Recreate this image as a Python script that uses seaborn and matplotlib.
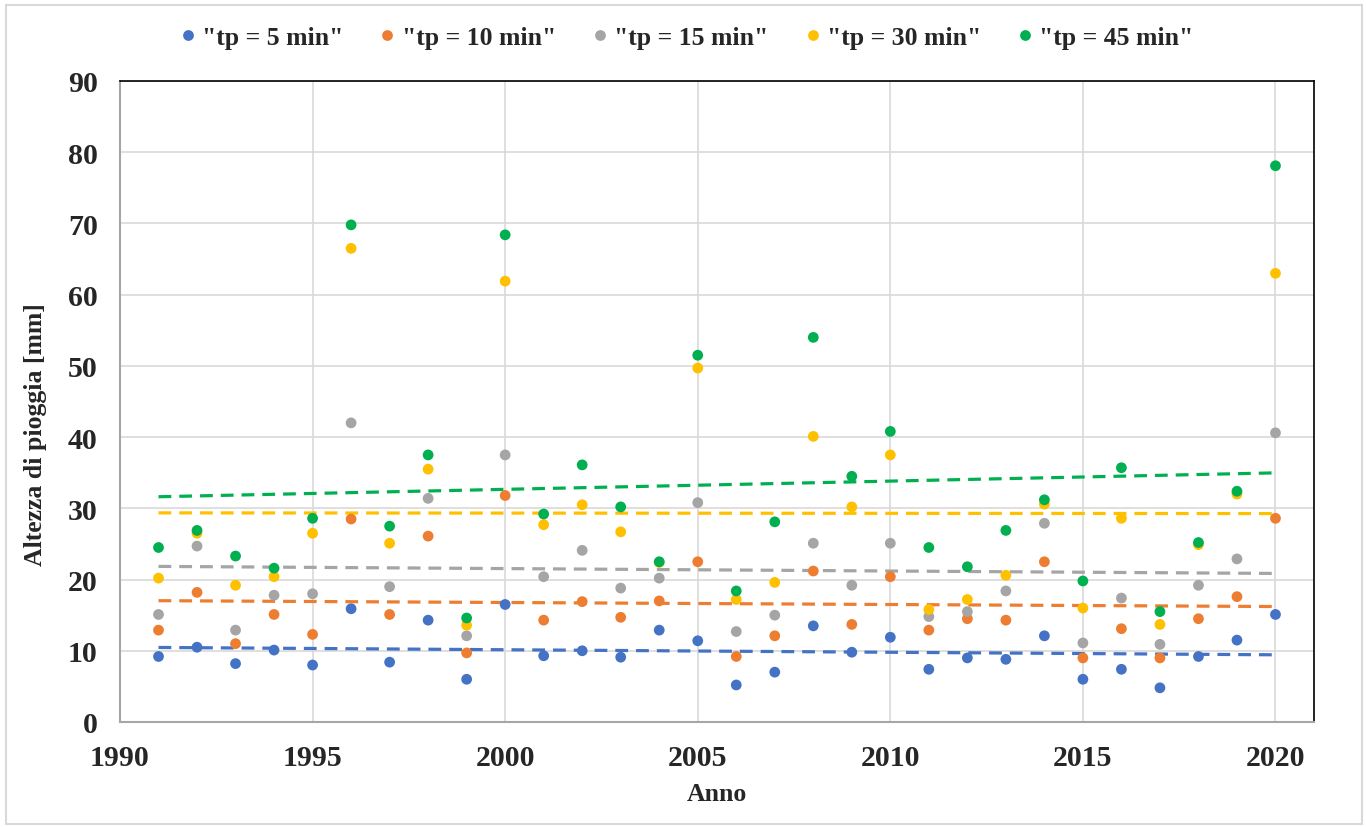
import pandas as pd
import seaborn as sns
import matplotlib.pyplot as plt
from matplotlib.patches import Rectangle

years = list(range(1991, 2021))

tp5 = [9.2, 10.5, 8.2, 10.1, 8.0, 15.9, 8.4, 14.3, 6.0, 16.5,
       9.3, 10.0, 9.1, 12.9, 11.4, 5.2, 7.0, 13.5, 9.8, 11.9,
       7.4, 9.0, 8.8, 12.1, 6.0, 7.4, 4.8, 9.2, 11.5, 15.1]
tp10 = [12.9, 18.2, 11.0, 15.1, 12.3, 28.5, 15.1, 26.1, 9.7, 31.8,
        14.3, 16.9, 14.7, 17.0, 22.5, 9.2, 12.1, 21.2, 13.7, 20.4,
        12.9, 14.5, 14.3, 22.5, 9.0, 13.1, 9.0, 14.5, 17.6, 28.6]
tp15 = [15.1, 24.7, 12.9, 17.8, 18.0, 42.0, 19.0, 31.4, 12.1, 37.5,
        20.4, 24.1, 18.8, 20.2, 30.8, 12.7, 15.0, 25.1, 19.2, 25.1,
        14.8, 15.5, 18.4, 27.9, 11.1, 17.4, 10.9, 19.2, 22.9, 40.6]
tp30 = [20.2, 26.5, 19.2, 20.4, 26.5, 66.5, 25.1, 35.5, 13.6, 61.9,
        27.7, 30.5, 26.7, 22.4, 49.7, 17.2, 19.6, 40.1, 30.2, 37.5,
        15.8, 17.2, 20.6, 30.6, 16.0, 28.6, 13.7, 24.9, 32.0, 63.0]
tp45 = [24.5, 26.9, 23.3, 21.6, 28.6, 69.8, 27.5, 37.5, 14.6, 68.4,
        29.2, 36.1, 30.2, 22.5, 51.5, 18.4, 28.1, 54.0, 34.5, 40.8,
        24.5, 21.8, 26.9, 31.2, 19.8, 35.7, 15.5, 25.2, 32.4, 78.1]

series_names = ['"tp = 5 min"', '"tp = 10 min"', '"tp = 15 min"', '"tp = 30 min"', '"tp = 45 min"']
series_values = [tp5, tp10, tp15, tp30, tp45]
colors = ["#4472C4", "#ED7D31", "#A5A5A5", "#FFC000", "#00B050"]

x_ticks = [1990, 1995, 2000, 2005, 2010, 2015, 2020]
y_ticks = [0, 10, 20, 30, 40, 50, 60, 70, 80, 90]

frames = []
for name, vals in zip(series_names, series_values):
    frames.append(pd.DataFrame({"Anno": years, "valore": vals, "serie": name}))
df = pd.concat(frames, ignore_index=True)
palette = dict(zip(series_names, colors))

sns.set_style("white")
plt.rcParams["font.family"] = ["Liberation Serif", "DejaVu Serif"]
plt.rcParams["font.weight"] = "bold"

fig = plt.figure(figsize=(13.66, 8.28), dpi=100)
ax = fig.add_axes([120 / 1366, 1 - 723 / 828, (1314 - 120) / 1366, (723 - 82) / 828])

# chart area frame
fig.patches.append(Rectangle((6 / 1366, 0.004), 1356 / 1366, 1 - 6 / 828 - 0.004,
                             transform=fig.transFigure, fill=False,
                             edgecolor="#d9d9d9", linewidth=1.5))

# linear trend lines
for name in series_names:
    sub = df[df["serie"] == name]
    sns.regplot(data=sub, x="Anno", y="valore", ax=ax, scatter=False, ci=None,
                truncate=True, color=palette[name],
                line_kws={"linestyle": (0, (4, 2.5)), "linewidth": 2.3, "zorder": 2})

sns.scatterplot(data=df, x="Anno", y="valore", hue="serie", palette=palette,
                s=60, edgecolor="none", ax=ax, zorder=3)

ax.set_xlim(1990, 2021)
ax.set_ylim(0, 90)
ax.set_xticks(x_ticks)
ax.set_yticks(y_ticks)
ax.grid(True, color="#d9d9d9", linewidth=1.2)
ax.set_axisbelow(True)
ax.tick_params(length=0, labelsize=21.5, pad=16)
for lbl in ax.get_xticklabels() + ax.get_yticklabels():
    lbl.set_fontweight("bold")

for side in ["left", "bottom"]:
    ax.spines[side].set_color("#a6a6a6")
    ax.spines[side].set_linewidth(1.5)
for side in ["top", "right"]:
    ax.spines[side].set_color("black")
    ax.spines[side].set_linewidth(1.2)

ax.set_xlabel("Anno", fontsize=18.5, fontweight="bold", labelpad=8)
ax.set_ylabel("Altezza di pioggia [mm]", fontsize=18.5, fontweight="bold")
ax.yaxis.set_label_coords(-0.061, 0.45)

handles, labels = ax.get_legend_handles_labels()
ax.get_legend().remove()
fig.legend(handles, labels, loc="center", bbox_to_anchor=(0.5028, 1 - 38 / 828), ncol=5,
           frameon=False, prop={"size": 18.5, "weight": "bold"}, handlelength=0.6,
           handletextpad=0.25, columnspacing=1.42, markerscale=1.0)

fig.savefig("out.png", dpi=100)
